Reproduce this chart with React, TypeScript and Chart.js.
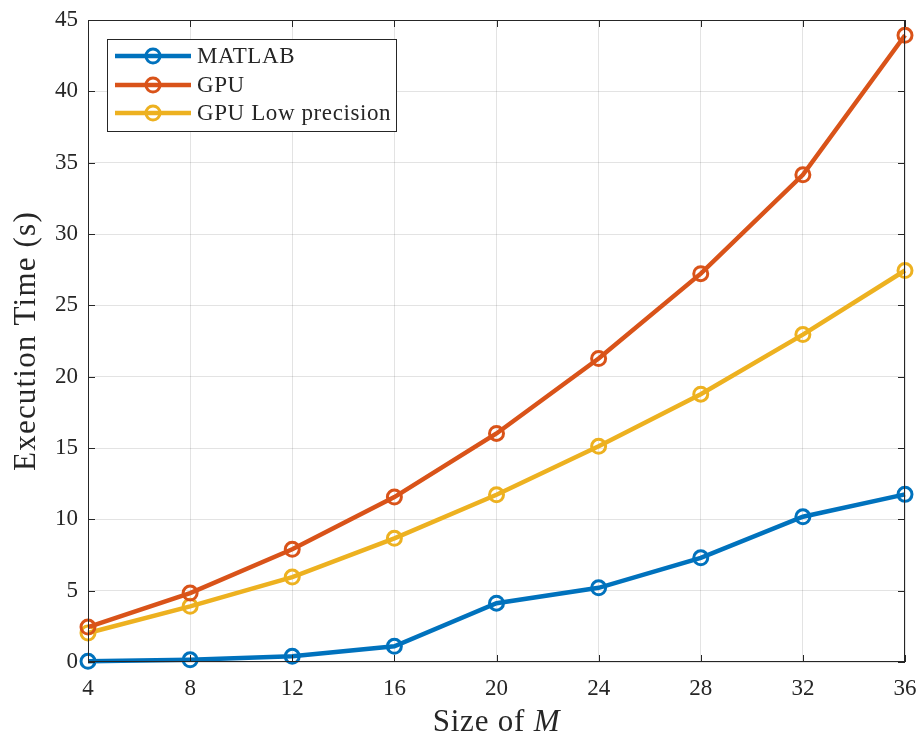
import React, { useEffect, useRef } from "react";
import { Chart, registerables } from "chart.js";

Chart.register(...registerables);

const sizes = [4, 8, 12, 16, 20, 24, 28, 32, 36];
const matlabTimes = [0.05, 0.15, 0.4, 1.1, 4.12, 5.2, 7.3, 10.18, 11.75];
const gpuTimes = [2.45, 4.83, 7.9, 11.56, 16.02, 21.27, 27.22, 34.15, 43.93];
const gpuLowTimes = [2.03, 3.9, 5.95, 8.67, 11.72, 15.12, 18.77, 22.95, 27.44];
const xTicks = [4, 8, 12, 16, 20, 24, 28, 32, 36];
const yTicks = [0, 5, 10, 15, 20, 25, 30, 35, 40, 45];
const seriesNames = ["MATLAB", "GPU", "GPU Low precision"];
const seriesColors = ["#0072BD", "#D95319", "#EDB120"];

const SERIF = "'Liberation Serif', 'DejaVu Serif', serif";
const AXIS = "#262626";

const framePlugin = {
  id: "matlabFrame",
  afterDatasetsDraw(chart: any) {
    const { ctx, chartArea: a, scales } = chart;
    const xs = scales.x;
    const ys = scales.y;
    ctx.save();
    ctx.strokeStyle = AXIS;
    ctx.lineWidth = 1;
    ctx.strokeRect(a.left + 0.5, a.top + 0.5, a.right - a.left - 1, a.bottom - a.top - 1);
    const tl = 7;
    ctx.beginPath();
    xTicks.forEach((v) => {
      const px = Math.round(xs.getPixelForValue(v)) + 0.5;
      ctx.moveTo(px, a.bottom);
      ctx.lineTo(px, a.bottom - tl);
      ctx.moveTo(px, a.top);
      ctx.lineTo(px, a.top + tl);
    });
    yTicks.forEach((v) => {
      const py = Math.round(ys.getPixelForValue(v)) + 0.5;
      ctx.moveTo(a.left, py);
      ctx.lineTo(a.left + tl, py);
      ctx.moveTo(a.right, py);
      ctx.lineTo(a.right - tl, py);
    });
    ctx.stroke();

    // legend
    const lx = 107, ly = 39, lw = 289, lh = 92;
    ctx.fillStyle = "#ffffff";
    ctx.fillRect(lx, ly, lw, lh);
    ctx.strokeStyle = AXIS;
    ctx.lineWidth = 1;
    ctx.strokeRect(lx + 0.5, ly + 0.5, lw, lh);
    const rows = [56, 85, 113];
    seriesNames.forEach((name, i) => {
      const y = rows[i];
      ctx.strokeStyle = seriesColors[i];
      ctx.lineWidth = 4.5;
      ctx.beginPath();
      ctx.moveTo(115, y);
      ctx.lineTo(191, y);
      ctx.stroke();
      ctx.lineWidth = 3;
      ctx.beginPath();
      ctx.arc(153, y, 7, 0, Math.PI * 2);
      ctx.stroke();
      ctx.fillStyle = AXIS;
      ctx.font = `23px ${SERIF}`;
      (ctx as any).letterSpacing = "0.6px";
      ctx.textAlign = "left";
      ctx.textBaseline = "middle";
      ctx.fillText(name, 197, y + 1);
    });

    // x title with italic M
    (ctx as any).letterSpacing = "0.8px";
    ctx.fillStyle = AXIS;
    ctx.textBaseline = "alphabetic";
    const part1 = "Size of ";
    ctx.font = `31px ${SERIF}`;
    const w1 = ctx.measureText(part1).width;
    ctx.font = `italic 31px ${SERIF}`;
    const w2 = ctx.measureText("M").width;
    const cx = (a.left + a.right) / 2;
    const start = cx - (w1 + w2) / 2;
    ctx.font = `31px ${SERIF}`;
    ctx.textAlign = "left";
    ctx.fillText(part1, start, 731);
    ctx.font = `italic 31px ${SERIF}`;
    ctx.fillText("M", start + w1, 731);

    // y title
    ctx.translate(35, (a.top + a.bottom) / 2);
    ctx.rotate(-Math.PI / 2);
    ctx.font = `31px ${SERIF}`;
    (ctx as any).letterSpacing = "1.2px";
    ctx.textAlign = "center";
    ctx.fillText("Execution Time (s)", 0, 0);
    ctx.restore();
  },
};

const zeroPad = (s: any) => {
  s.paddingTop = 0;
  s.paddingBottom = 0;
  s.paddingLeft = 0;
  s.paddingRight = 0;
};

export default function App() {
  const ref = useRef<HTMLCanvasElement>(null);
  useEffect(() => {
    const prevMargin = document.body.style.margin;
    document.body.style.margin = "0";
    const chart = new Chart(ref.current as HTMLCanvasElement, {
      type: "line",
      data: {
        labels: sizes,
        datasets: [matlabTimes, gpuTimes, gpuLowTimes].map((vals, i) => ({
          label: seriesNames[i],
          data: vals.map((v, j) => ({ x: sizes[j], y: v })),
          borderColor: seriesColors[i],
          backgroundColor: "rgba(0,0,0,0)",
          borderWidth: 4.5,
          pointRadius: 7,
          pointBorderWidth: 3,
          pointBackgroundColor: "rgba(0,0,0,0)",
          pointBorderColor: seriesColors[i],
          tension: 0,
          clip: false as any,
        })),
      },
      options: {
        animation: false,
        responsive: false,
        maintainAspectRatio: false,
        layout: { padding: { left: 0, right: 17, top: 20, bottom: 0 } },
        plugins: { legend: { display: false }, tooltip: { enabled: false } },
        scales: {
          x: {
            type: "linear",
            min: 4,
            max: 36,
            afterBuildTicks: (s: any) => {
              s.ticks = xTicks.map((v) => ({ value: v }));
            },
            afterFit: (s: any) => {
              s.height = 76;
              zeroPad(s);
            },
            grid: { color: "rgba(0,0,0,0.11)", drawTicks: false, lineWidth: 1 },
            border: { display: false },
            ticks: {
              color: AXIS,
              font: { family: SERIF, size: 23 },
              padding: 13,
              maxRotation: 0,
            },
          },
          y: {
            type: "linear",
            min: 0,
            max: 45,
            afterBuildTicks: (s: any) => {
              s.ticks = yTicks.map((v) => ({ value: v }));
            },
            afterFit: (s: any) => {
              s.width = 88;
              zeroPad(s);
            },
            grid: { color: "rgba(0,0,0,0.11)", drawTicks: false, lineWidth: 1 },
            border: { display: false },
            ticks: {
              color: AXIS,
              font: { family: SERIF, size: 23 },
              padding: 10,
            },
          },
        },
      },
      plugins: [framePlugin],
    } as any);
    return () => {
      chart.destroy();
      document.body.style.margin = prevMargin;
    };
  }, []);
  return (
    <div style={{ position: "absolute", left: 0, top: 0, width: 922, height: 738, background: "#fff" }}>
      <canvas ref={ref} width={922} height={738} style={{ width: 922, height: 738, display: "block" }} />
    </div>
  );
}
